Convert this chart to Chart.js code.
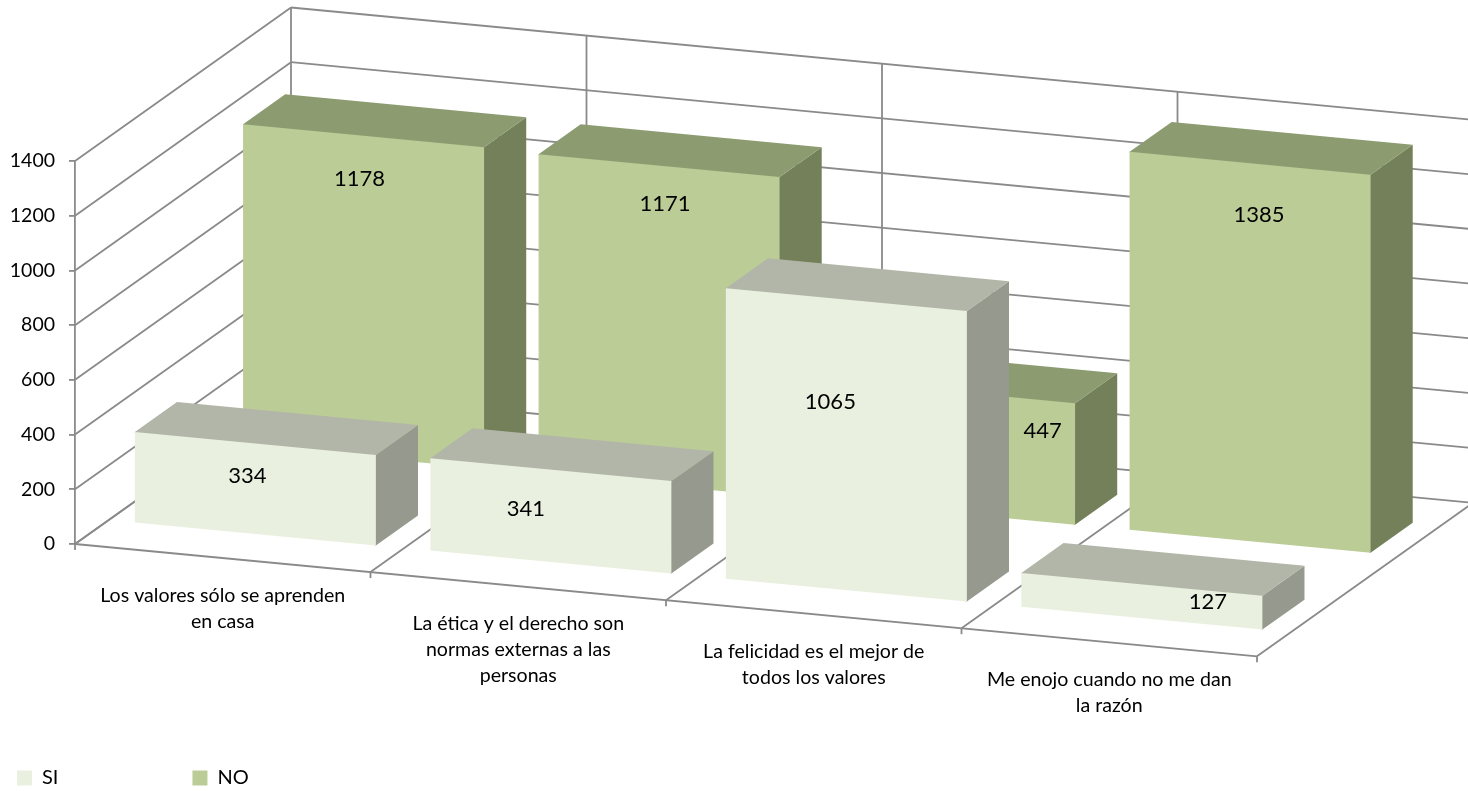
<!DOCTYPE html>
<html>
<head>
<meta charset="utf-8">
<style>html,body{margin:0;padding:0;background:#fff;overflow:hidden}canvas{display:block}</style>
<script src="https://cdn.jsdelivr.net/npm/chart.js@4/dist/chart.umd.min.js"></script>
</head>
<body>
<canvas id="c" width="1468" height="791"></canvas>
<script>
const categories = [
  ["Los valores sólo se aprenden", "en casa"],
  ["La ética y el derecho son", "normas externas a las", "personas"],
  ["La felicidad es el mejor de", "todos los valores"],
  ["Me enojo cuando no me dan", "la razón"]
];
const siValues = [334, 341, 1065, 127];
const noValues = [1178, 1171, 447, 1385];

// 3D look (pixels)
const SKEW = 0.095, DEPTH_X = 216, DEPTH_Y = -153.5;
const ROW_DEPTH = [0.151, 0.652], BAR_DEPTH = 0.195;
const FACES = [
  {front:'#E9F0DF', top:'#B2B6A8', side:'#969A8E'},
  {front:'#BBCC96', top:'#8C9C70', side:'#748059'}
];
const LINE = '#8a8a8a';
const FONT = 'Lato, Carlito, sans-serif';
// hand placement of the value labels, relative to the middle of each front face
const LABEL_NUDGE = [
  [[-8,-13],[-25,-7],[-16,-43],[66,1]],
  [[-4,-117],[6,-121],[88,-22],[9,-137]]
];

function proj(chart, x, y, d) {
  const x0 = chart.chartArea.left;
  return [x + DEPTH_X*d, y + SKEW*(x-x0) + DEPTH_Y*d];
}
function poly(ctx, pts, fill) {
  ctx.beginPath();
  pts.forEach((p,i)=> i ? ctx.lineTo(p[0],p[1]) : ctx.moveTo(p[0],p[1]));
  ctx.closePath();
  ctx.fillStyle = fill; ctx.fill();
}
function seg(ctx, a, b) { ctx.beginPath(); ctx.moveTo(a[0],a[1]); ctx.lineTo(b[0],b[1]); ctx.stroke(); }

const box3d = {
  id:'box3d',
  beforeDraw(chart) {
    // slide the horizontal category labels along the slanted floor edge
    const sx = chart.scales.x;
    sx.getLabelItems().forEach((it,i)=>{
      const x = sx.getPixelForValue(i);
      it.options.translation[0] = x;
      it.options.translation[1] = chart.chartArea.bottom + SKEW*(x-chart.chartArea.left) + 24.5;
    });
    // legend sits in the lower left corner, pad the items apart
    const lg = chart.legend, p = lg.options.labels.padding;
    lg.left = 17 - p;
    lg.top = 768 - p;
  },
  beforeDatasetsDraw(chart) {
    const ctx = chart.ctx, sx = chart.scales.x, sy = chart.scales.y;
    const step = sx.width / categories.length, L = sx.left, B = sy.getPixelForValue(0), T = sy.getPixelForValue(1400);
    ctx.save();
    ctx.strokeStyle = LINE; ctx.lineWidth = 1.8;
    sy.ticks.forEach(t=>{
      const y = sy.getPixelForValue(t.value);
      seg(ctx, proj(chart,L,y,0), proj(chart,L,y,1));
      seg(ctx, proj(chart,L,y,1), proj(chart,sx.right,y,1));
    });
    for (let i=0;i<=categories.length;i++) {
      const x = L + i*step;
      seg(ctx, proj(chart,x,T,1), proj(chart,x,B,1));
      seg(ctx, proj(chart,x,B,0), proj(chart,x,B,1));
      const f = proj(chart,x,B,0);
      seg(ctx, f, [f[0], f[1]+6]);
    }
    seg(ctx, proj(chart,L,B,0), proj(chart,sx.right,B,0));
    ctx.restore();
  },
  beforeDatasetDraw(chart, args) {
    const ctx = chart.ctx, d = ROW_DEPTH[args.index], c = FACES[args.index];
    ctx.save();
    args.meta.data.forEach(b=>{
      const l = b.x-b.width/2, r = b.x+b.width/2, e = d+BAR_DEPTH;
      // side and top run one pixel under the front face, so no seam shows at the shared edge
      poly(ctx,[proj(chart,r,b.y,e),proj(chart,r,b.base,e),proj(chart,r,b.base,d),proj(chart,r-1,b.base,d),proj(chart,r-1,b.y,d),proj(chart,r,b.y,d)],c.side);
      poly(ctx,[proj(chart,l,b.y+1,d),proj(chart,r,b.y+1,d),proj(chart,r,b.y,d),proj(chart,r,b.y,e),proj(chart,l,b.y,e),proj(chart,l,b.y,d)],c.top);
    });
    const x0 = chart.chartArea.left;
    ctx.transform(1, SKEW, 0, 1, DEPTH_X*d, DEPTH_Y*d - SKEW*x0);
  },
  afterDatasetDraw(chart) { chart.ctx.restore(); },
  afterDatasetsDraw(chart) {
    const ctx = chart.ctx;
    ctx.save();
    ctx.fillStyle = '#000';
    ctx.font = '22px ' + FONT;
    ctx.textAlign = 'center'; ctx.textBaseline = 'middle';
    chart.data.datasets.forEach((ds,k)=>{
      chart.getDatasetMeta(k).data.forEach((b,i)=>{
        const m = proj(chart, b.x, (b.y+b.base)/2, ROW_DEPTH[k]);
        const n = LABEL_NUDGE[k][i];
        ctx.fillText(String(ds.data[i]), m[0]+n[0], m[1]+n[1]);
      });
    });
    ctx.restore();
  }
};

new Chart(document.getElementById('c'), {
  type:'bar',
  data:{
    labels:categories,
    datasets:[
      {label:'SI', data:siValues, backgroundColor:FACES[0].front, borderWidth:0, clip:false},
      {label:'NO', data:noValues, backgroundColor:FACES[1].front, borderWidth:0, clip:false}
    ]
  },
  options:{
    responsive:false, animation:false,
    layout:{padding:{left:0,right:211,top:161,bottom:0}},
    datasets:{bar:{grouped:false, categoryPercentage:1, barPercentage:0.8156}},
    plugins:{
      tooltip:{enabled:false},
      legend:{
        position:'bottom', align:'start', maxHeight:40,
        labels:{boxWidth:15, boxHeight:15, padding:134, color:'#000', font:{family:FONT, size:20}}
      }
    },
    scales:{
      x:{
        grid:{display:false}, border:{display:false},
        ticks:{color:'#000', autoSkip:false, maxRotation:0, minRotation:0, font:{family:FONT, size:19.6, lineHeight:26/19.6}},
        afterFit(s){ s.height = 207; }
      },
      y:{
        min:0, max:1400,
        grid:{drawOnChartArea:false, drawTicks:true, tickLength:6, color:LINE, lineWidth:1.8},
        border:{display:true, color:LINE, width:1.8},
        ticks:{stepSize:200, color:'#000', padding:14, font:{family:FONT, size:19.5}, callback:v=>String(v)},
        afterFit(s){ s.width = 75; }
      }
    }
  },
  plugins:[box3d]
});
</script>
</body>
</html>
